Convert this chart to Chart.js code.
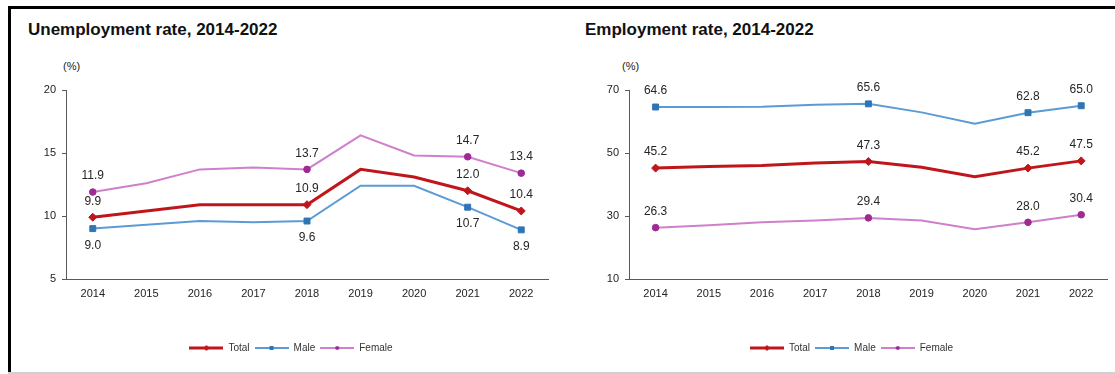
<!DOCTYPE html>
<html>
<head>
<meta charset="utf-8">
<script src="https://cdn.jsdelivr.net/npm/chart.js@4.4.1/dist/chart.umd.min.js"></script>
<style>
  html, body { margin: 0; padding: 0; background: #fff; }
  body { width: 1115px; height: 374px; position: relative; overflow: hidden; font-family: "Liberation Sans", Arial, sans-serif; }
  .frame-top { position: absolute; left: 8px; top: 6px; width: 1107px; height: 3px; background: #000; }
  .frame-left { position: absolute; left: 8px; top: 6px; width: 3px; height: 368px; background: #000; }
  .frame-bottom { position: absolute; left: 8px; top: 372px; width: 1107px; height: 2px; background: #d0d0d0; }
  .title { position: absolute; top: 20px; font-weight: bold; font-size: 17px; color: #111; }
  .unit { position: absolute; top: 60px; font-size: 11px; color: #222; }
  .box { position: absolute; top: 50px; height: 320px; }
</style>
</head>
<body>
<div class="frame-top"></div>
<div class="frame-left"></div>
<div class="frame-bottom"></div>
<div class="title" style="left:28px;">Unemployment rate, 2014-2022</div>
<div class="title" style="left:585px;">Employment rate, 2014-2022</div>
<div class="unit" style="left:63px;">(%)</div>
<div class="unit" style="left:622px;">(%)</div>
<div class="box" style="left:10px; width:545px;"><canvas id="c1"></canvas></div>
<div class="box" style="left:573px; width:540px;"><canvas id="c2"></canvas></div>
<script>
// ---- Data ----
const years = ['2014','2015','2016','2017','2018','2019','2020','2021','2022'];
const labeledYears = ['2014','2018','2021','2022'];
const seriesNames = ['Total','Male','Female'];

const unempTotal  = [9.9, 10.4, 10.9, 10.9, 10.9, 13.7, 13.1, 12.0, 10.4];
const unempMale   = [9.0, 9.3, 9.6, 9.5, 9.6, 12.4, 12.4, 10.7, 8.9];
const unempFemale = [11.9, 12.6, 13.7, 13.85, 13.7, 16.4, 14.8, 14.7, 13.4];
const unempTicks  = [5, 10, 15, 20];

const empTotal  = [45.2, 45.7, 46.0, 46.8, 47.3, 45.5, 42.5, 45.2, 47.5];
const empMale   = [64.6, 64.6, 64.7, 65.3, 65.6, 62.9, 59.3, 62.8, 65.0];
const empFemale = [26.3, 27.1, 28.0, 28.6, 29.4, 28.6, 25.8, 28.0, 30.4];
const empTicks  = [10, 30, 50, 70];

// ---- Styles ----
const styles = {
  Total:  { line: '#C0161B', point: '#C0161B', width: 3, pointStyle: 'rectRot', radius: 4 },
  Male:   { line: '#5B9BD5', point: '#2E75B6', width: 2, pointStyle: 'rect',    radius: 4.2 },
  Female: { line: '#CF7FCB', point: '#9E2A94', width: 2, pointStyle: 'circle',  radius: 3.3 }
};

function legendImage(name) {
  const s = styles[name];
  const c = document.createElement('canvas');
  c.width = 34; c.height = 10;
  const ctx = c.getContext('2d');
  ctx.strokeStyle = s.line; ctx.lineWidth = s.width;
  ctx.beginPath(); ctx.moveTo(0, 5); ctx.lineTo(34, 5); ctx.stroke();
  ctx.fillStyle = s.point;
  ctx.beginPath();
  if (s.pointStyle === 'rectRot') { ctx.moveTo(17, 2); ctx.lineTo(20, 5); ctx.lineTo(17, 8); ctx.lineTo(14, 5); ctx.closePath(); }
  else if (s.pointStyle === 'rect') { ctx.rect(15, 3, 4, 4); }
  else { ctx.arc(17, 5, 2, 0, Math.PI * 2); }
  ctx.fill();
  return c;
}

function makeDataset(name, values) {
  const s = styles[name];
  const radii = years.map(y => labeledYears.includes(y) ? s.radius : 0);
  return {
    label: name,
    data: values,
    borderColor: s.line,
    backgroundColor: s.point,
    pointBackgroundColor: s.point,
    pointBorderColor: s.point,
    pointBorderWidth: 1,
    borderWidth: s.width,
    pointStyle: s.pointStyle,
    pointRadius: radii,
    pointHoverRadius: radii,
    tension: 0
  };
}

const dataLabelPlugin = {
  id: 'dataLabels',
  afterLayout(chart, args, opts) {
    const lg = chart.legend;
    if (lg && opts.legendShift) { lg.left += opts.legendShift; lg.right += opts.legendShift; }
  },
  afterDatasetsDraw(chart, args, opts) {
    const ctx = chart.ctx;
    ctx.save();
    ctx.font = '12px "Liberation Sans", Arial, sans-serif';
    ctx.fillStyle = '#262626';
    ctx.textAlign = 'center';
    ctx.textBaseline = 'middle';
    chart.data.datasets.forEach((ds, di) => {
      const meta = chart.getDatasetMeta(di);
      const below = (opts.below || []).includes(ds.label);
      meta.data.forEach((pt, i) => {
        if (!labeledYears.includes(years[i])) return;
        const yy = below ? pt.y + 17 : pt.y - 16;
        ctx.fillText(ds.data[i].toFixed(1), pt.x, yy);
      });
    });
    ctx.restore();
  }
};

function makeChart(id, datasets, ticks, below, padRight, legendShift) {
  const min = ticks[0], max = ticks[ticks.length - 1], step = ticks[1] - ticks[0];
  return new Chart(document.getElementById(id), {
    type: 'line',
    data: { labels: years, datasets },
    plugins: [dataLabelPlugin],
    options: {
      responsive: true,
      maintainAspectRatio: false,
      animation: false,
      layout: { padding: { top: 40, right: padRight, bottom: 7, left: 0 } },
      plugins: {
        tooltip: { enabled: false },
        dataLabels: { below, legendShift },
        legend: {
          position: 'bottom',
          labels: {
            usePointStyle: true,
            pointStyleWidth: 34,
            boxHeight: 10,
            padding: 5,
            color: '#333',
            font: { size: 10, family: '"Liberation Sans", Arial, sans-serif' },
            generateLabels(chart) {
              return chart.data.datasets.map((ds, i) => ({
                text: ds.label,
                pointStyle: legendImage(ds.label),
                fillStyle: 'transparent',
                strokeStyle: 'transparent',
                lineWidth: 0,
                fontColor: '#333',
                hidden: false,
                datasetIndex: i
              }));
            }
          }
        }
      },
      scales: {
        x: {
          offset: true,
          grid: { display: false, drawTicks: false },
          border: { display: true, color: '#595959', width: 1 },
          ticks: { color: '#222', font: { size: 11, family: '"Liberation Sans", Arial, sans-serif' }, padding: 8, maxRotation: 0 },
          afterFit(scale) { scale.height = 59; }
        },
        y: {
          min, max,
          grid: { drawOnChartArea: false, drawTicks: true, tickLength: 4, color: '#595959' },
          border: { display: true, color: '#595959', width: 1 },
          ticks: { stepSize: step, color: '#222', font: { size: 11, family: '"Liberation Sans", Arial, sans-serif' }, padding: 6 },
          afterFit(scale) { scale.width = 56; }
        }
      }
    }
  });
}

makeChart('c1', [
  makeDataset('Total', unempTotal),
  makeDataset('Male', unempMale),
  makeDataset('Female', unempFemale)
], unempTicks, ['Male'], 7, 12);

makeChart('c2', [
  makeDataset('Total', empTotal),
  makeDataset('Male', empMale),
  makeDataset('Female', empFemale)
], empTicks, [], 3, 10);
</script>
</body>
</html>
